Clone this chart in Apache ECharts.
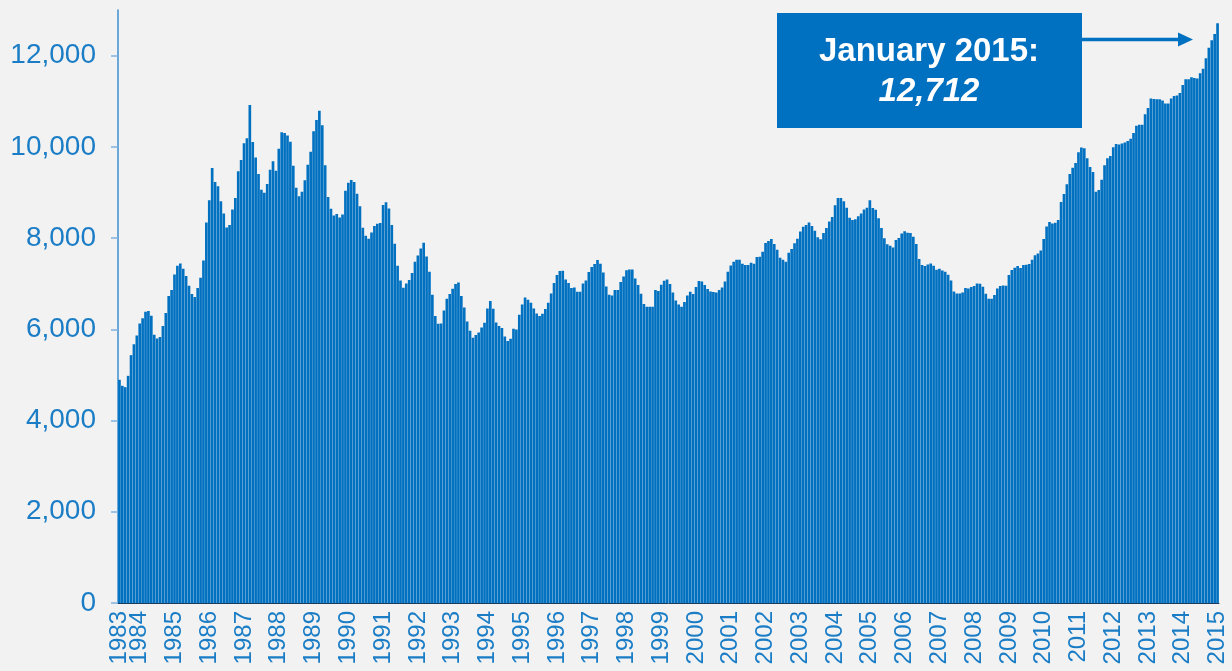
<!DOCTYPE html>
<html>
<head>
<meta charset="utf-8">
<script src="https://cdn.jsdelivr.net/npm/echarts@6/dist/echarts.min.js"></script>
<style>
  html, body { margin: 0; padding: 0; background: #f2f2f2; }
  #main { width: 1232px; height: 671px; }
</style>
</head>
<body>
<div id="main"></div>
<script>
// monthly values, June 1983 .. January 2015
const values = [
  4893, 4761, 4732, 4980, 5434, 5675, 5865,                                   // 1983 Jun-Dec
  6129, 6245, 6385, 6400, 6297, 5880, 5800, 5830, 6070, 6356, 6729, 6860,     // 1984
  7203, 7394, 7445, 7328, 7167, 6955, 6773, 6707, 6904, 7130, 7510, 8344,     // 1985
  8827, 9537, 9230, 9134, 8805, 8541, 8234, 8287, 8629, 8879, 9463, 9713,     // 1986
  10077, 10187, 10919, 10107, 9764, 9406, 9061, 8996, 9186, 9500, 9682, 9478, // 1987
  9961, 10318, 10304, 10246, 10114, 9588, 9105, 8915, 9018, 9266, 9610, 9895, // 1988
  10341, 10590, 10794, 10472, 9594, 8901, 8644, 8497, 8527, 8453, 8519, 9039, // 1989
  9215, 9274, 9230, 8973, 8695, 8228, 8052, 7986, 8124, 8264, 8315, 8329,     // 1990
  8726, 8783, 8651, 8287, 7877, 7394, 7071, 6911, 7006, 7080, 7233, 7482,     // 1991
  7620, 7773, 7898, 7598, 7262, 6758, 6290, 6121, 6129, 6413, 6670, 6773,     // 1992
  6889, 6992, 7028, 6729, 6480, 6173, 5968, 5814, 5873, 5931, 6040, 6143,     // 1993
  6457, 6619, 6450, 6150, 6070, 6026, 5843, 5741, 5792, 6012, 5997, 6319,     // 1994
  6545, 6698, 6648, 6582, 6457, 6347, 6290, 6341, 6443, 6582, 6786, 7014,     // 1995
  7190, 7277, 7284, 7094, 7014, 6904, 6918, 6823, 6823, 7006, 7072, 7255,     // 1996
  7365, 7431, 7519, 7438, 7247, 6940, 6758, 6743, 6860, 6860, 7036, 7160,     // 1997
  7292, 7313, 7313, 7116, 6970, 6780, 6553, 6494, 6494, 6494, 6860, 6838,     // 1998
  6977, 7065, 7094, 6992, 6808, 6633, 6545, 6494, 6597, 6743, 6823, 6772,     // 1999
  6926, 7058, 7050, 6970, 6882, 6830, 6816, 6808, 6860, 6918, 7050, 7262,     // 2000
  7401, 7482, 7526, 7526, 7438, 7408, 7408, 7460, 7438, 7584, 7591, 7701,     // 2001
  7891, 7935, 7979, 7869, 7745, 7570, 7526, 7482, 7679, 7760, 7884, 7986,     // 2002
  8146, 8249, 8287, 8344, 8264, 8162, 8016, 7972, 8111, 8221, 8366, 8462,     // 2003
  8717, 8879, 8879, 8805, 8666, 8447, 8396, 8410, 8476, 8541, 8629, 8666,     // 2004
  8827, 8659, 8622, 8432, 8221, 7994, 7862, 7833, 7796, 7958, 8001, 8103,     // 2005
  8147, 8118, 8111, 8030, 7869, 7540, 7408, 7387, 7423, 7445, 7394, 7306,     // 2006
  7328, 7291, 7262, 7196, 7072, 6830, 6786, 6786, 6808, 6904, 6896, 6926,     // 2007
  6948, 7006, 6999, 6933, 6780, 6670, 6670, 6751, 6896, 6948, 6962, 6955,     // 2008
  7189, 7299, 7350, 7387, 7343, 7408, 7416, 7431, 7526, 7621, 7664, 7730,     // 2009
  7979, 8256, 8352, 8322, 8337, 8396, 8791, 8967, 9178, 9405, 9544, 9647,     // 2010
  9880, 9983, 9968, 9748, 9559, 9449, 9017, 9054, 9281, 9595, 9748, 9800,     // 2011
  9990, 10064, 10049, 10071, 10093, 10129, 10180, 10305, 10465, 10487, 10487, 10713, // 2012
  10853, 11058, 11051, 11043, 11043, 11014, 10948, 10948, 11058, 11117, 11124, 11183, // 2013
  11358, 11482, 11482, 11526, 11511, 11497, 11613, 11710, 11943, 12170, 12337, 12476, // 2014
  12712                                                                       // 2015 Jan
];

// categories: year-month from June 1983
const startYear = 1983;
const startMonth = 6;
const months = [];
for (let i = 0; i < values.length; i++) {
  const m = startMonth - 1 + i;
  const y = startYear + Math.floor(m / 12);
  const mm = (m % 12) + 1;
  months.push(y + '-' + (mm < 10 ? '0' + mm : mm));
}

const yTicks = [0, 2000, 4000, 6000, 8000, 10000, 12000];
const noteTitle = 'January 2015:';
const noteValue = '12,712';

const blue = '#0070c0';
const labelBlue = '#1a7dc6';

// shared look of the year labels
function yearLabel(showFn) {
  return {
    rotate: 90,
    margin: 8,
    color: labelBlue,
    fontFamily: 'Liberation Sans',
    fontSize: 24,
    hideOverlap: false,
    interval: showFn,
    formatter: function (val) {
      return val.slice(0, 4);
    }
  };
}

var myChart = echarts.init(document.getElementById('main'));
var option = {
  backgroundColor: '#f2f2f2',
  animation: false,
  grid: { left: 118, right: 13, top: 10, bottom: 68 },
  xAxis: [
    {
      type: 'category',
      data: months,
      axisLine: { lineStyle: { color: '#1f3b5a', width: 1 } },
      axisTick: { show: false },
      axisLabel: yearLabel(function (idx, val) {
        return idx > 0 && val.slice(5) === '01';
      })
    },
    {
      // second axis only carries the first "1983" label, which sits
      // too close to 1984 for the first axis to keep both
      type: 'category',
      data: months,
      position: 'bottom',
      axisLine: { show: false },
      axisTick: { show: false },
      axisLabel: Object.assign(
        yearLabel(function (idx) { return idx === 0; }),
        { showMinLabel: true }
      )
    }
  ],
  yAxis: {
    type: 'value',
    min: 0,
    max: 13000,
    interval: 1000,
    splitLine: { show: false },
    axisLine: { show: true, lineStyle: { color: '#3d8fd1', width: 1.5 } },
    axisTick: {
      show: true,
      length: 7,
      customValues: yTicks,
      lineStyle: { color: '#7fb2df', width: 1.5 }
    },
    axisLabel: {
      margin: 22,
      color: labelBlue,
      fontFamily: 'Liberation Sans',
      fontSize: 28,
      customValues: yTicks,
      formatter: function (v) {
        return v.toLocaleString('en-US');
      }
    }
  },
  series: [
    {
      type: 'bar',
      xAxisIndex: 0,
      data: values,
      barCategoryGap: '8%',
      itemStyle: { color: blue }
    }
  ],
  graphic: [
    {
      type: 'rect',
      shape: { x: 777, y: 13, width: 305, height: 115 },
      style: { fill: blue }
    },
    {
      type: 'text',
      x: 929,
      y: 52,
      style: {
        text: noteTitle,
        fill: '#ffffff',
        font: 'bold 33px "Liberation Sans", Arial, sans-serif',
        align: 'center',
        verticalAlign: 'middle'
      }
    },
    {
      type: 'text',
      x: 929,
      y: 92,
      style: {
        text: noteValue,
        fill: '#ffffff',
        font: 'italic bold 33px "Liberation Sans", Arial, sans-serif',
        align: 'center',
        verticalAlign: 'middle'
      }
    },
    {
      type: 'line',
      shape: { x1: 1082, y1: 39.5, x2: 1180, y2: 39.5 },
      style: { stroke: blue, lineWidth: 3.5 }
    },
    {
      type: 'polygon',
      shape: { points: [[1178, 32.5], [1193, 39.5], [1178, 46.5]] },
      style: { fill: blue }
    }
  ]
};
myChart.setOption(option);
</script>
</body>
</html>
